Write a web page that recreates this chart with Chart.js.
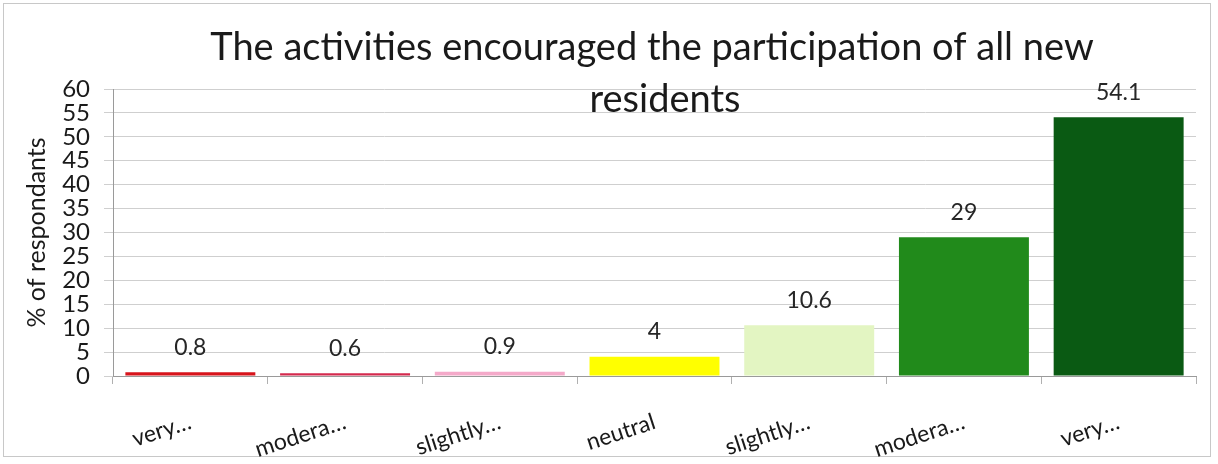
<!DOCTYPE html>
<html>
<head>
<meta charset="utf-8">
<script src="https://cdn.jsdelivr.net/npm/chart.js@4.4.0/dist/chart.umd.min.js"></script>
<style>
  body { margin: 0; background: #fff; }
  .frame { position: absolute; left: 3px; top: 3px; width: 1206px; height: 452px; border: 1px solid #c8c8c8; }
  #chart { position: absolute; left: 0; top: 0; }
</style>
</head>
<body>
<div class="frame"></div>
<canvas id="chart" width="1218" height="464"></canvas>
<script>
  // chart data
  let categories = ['very…', 'modera…', 'slightly…', 'neutral', 'slightly…', 'modera…', 'very…'];
  let percents = [0.8, 0.6, 0.9, 4, 10.6, 29, 54.1];
  let barColors = ['#d7141c', '#d42a4e', '#f4a9c9', '#ffff00', '#e3f5c2', '#218a1b', '#0a5a13'];
  let titleLines = ['The activities encouraged the participation of all new', 'residents'];
  let yTicks = [0, 5, 10, 15, 20, 25, 30, 35, 40, 45, 50, 55, 60];

  const fontFam = 'Lato, "Open Sans", sans-serif';

  // two line title, sits partly over the plot like the original
  const chartTitle = {
    id: 'chartTitle',
    afterDraw(chart) {
      let ctx = chart.ctx;
      ctx.save();
      ctx.font = '38px ' + fontFam;
      ctx.fillStyle = '#1a1a1a';
      ctx.textAlign = 'center';
      ctx.textBaseline = 'alphabetic';
      ctx.fillText(titleLines[0], 652, 60);
      ctx.fillText(titleLines[1], 665, 112);
      ctx.restore();
    }
  };

  // values above each bar
  const valueLabels = {
    id: 'valueLabels',
    afterDatasetsDraw(chart) {
      let ctx = chart.ctx;
      let meta = chart.getDatasetMeta(0);
      ctx.save();
      ctx.font = '23px ' + fontFam;
      ctx.fillStyle = '#262626';
      ctx.textAlign = 'center';
      ctx.textBaseline = 'middle';
      meta.data.forEach((bar, i) => {
        ctx.fillText(String(percents[i]), bar.x, bar.y - 25);
      });
      ctx.restore();
    }
  };

  var ctx = document.getElementById('chart').getContext('2d');
  new Chart(ctx, {
    type: 'bar',
    data: {
      labels: categories,
      datasets: [{
        data: percents,
        backgroundColor: barColors,
        barPercentage: 0.84,
        categoryPercentage: 1
      }]
    },
    options: {
      responsive: false,
      animation: false,
      layout: { padding: { left: 22, right: 22, top: 89, bottom: 0 } },
      plugins: {
        legend: { display: false },
        tooltip: { enabled: false },
        title: { display: false }
      },
      scales: {
        x: {
          grid: { drawOnChartArea: false, drawTicks: true, tickLength: 8, color: '#b0b0b0' },
          border: { color: '#9a9a9a' },
          ticks: {
            color: '#1a1a1a',
            font: { family: fontFam, size: 23 },
            minRotation: 18,
            maxRotation: 18,
            padding: 24,
            autoSkip: false
          },
          afterFit(scale) { scale.height = 88; }
        },
        y: {
          min: 0,
          max: 60,
          afterBuildTicks(scale) { scale.ticks = yTicks.map(v => ({ value: v })); },
          grid: { color: '#cfcfcf', tickLength: 9 },
          border: { color: '#9a9a9a' },
          ticks: {
            color: '#1a1a1a',
            font: { family: fontFam, size: 24 },
            padding: 14,
            autoSkip: false
          },
          title: {
            display: true,
            text: '% of respondants',
            color: '#1a1a1a',
            font: { family: fontFam, size: 25 },
            padding: { top: 0, bottom: 0 }
          },
          afterFit(scale) { scale.width = 91; }
        }
      }
    },
    plugins: [valueLabels, chartTitle]
  });
</script>
</body>
</html>
